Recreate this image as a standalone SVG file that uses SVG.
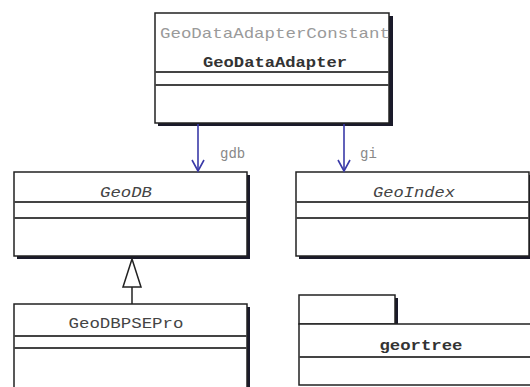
<svg xmlns="http://www.w3.org/2000/svg" width="530" height="387" viewBox="0 0 530 387">
<defs>
<style>
.box{fill:#ffffff;stroke:#222;stroke-width:1.5}
.shadow{fill:#1a1a2a}
.div{stroke:#444;stroke-width:1.8}
.t{font-family:"Liberation Mono","DejaVu Sans Mono",monospace;font-size:15px;fill:#444;text-anchor:middle}
.st{fill:#9a9a9a;font-weight:normal}
.b{font-weight:bold;fill:#333}
.i{font-style:italic}
.lbl{font-family:"Liberation Mono","DejaVu Sans Mono",monospace;font-size:14px;fill:#888}
.assoc{stroke:#3a3aa8;stroke-width:1.6;fill:none}
.gen{stroke:#222;stroke-width:1.5;fill:none}
</style>
<marker id="open" viewBox="0 0 14 14" refX="12" refY="7" markerWidth="14" markerHeight="14" markerUnits="userSpaceOnUse" orient="auto">
<path d="M1,1 L12,7 L1,13" fill="none" stroke="#3a3aa8" stroke-width="1.6"/>
</marker>
</defs>
<rect width="530" height="387" fill="#ffffff"/>

<g id="GeoDataAdapter">
<rect class="shadow" x="158" y="16" width="235" height="110"/>
<rect class="box" x="155" y="13" width="234" height="110"/>
<line class="div" x1="155" y1="72" x2="389" y2="72"/>
<line class="div" x1="155" y1="85" x2="389" y2="85"/>
<text class="t st" x="275" y="38" textLength="230" lengthAdjust="spacingAndGlyphs">GeoDataAdapterConstant</text>
<text class="t b" x="275" y="67" textLength="144" lengthAdjust="spacingAndGlyphs">GeoDataAdapter</text>
</g>

<g id="GeoDB">
<rect class="shadow" x="17" y="175" width="233" height="84"/>
<rect class="box" x="14" y="172" width="233" height="84"/>
<line class="div" x1="14" y1="202" x2="247" y2="202"/>
<line class="div" x1="14" y1="218" x2="247" y2="218"/>
<text class="t i" x="126" y="197" textLength="52" lengthAdjust="spacingAndGlyphs">GeoDB</text>
</g>

<g id="GeoIndex">
<rect class="shadow" x="299" y="175" width="233" height="84"/>
<rect class="box" x="296" y="172" width="233" height="84"/>
<line class="div" x1="296" y1="202" x2="529" y2="202"/>
<line class="div" x1="296" y1="218" x2="529" y2="218"/>
<text class="t i" x="414" y="197" textLength="82" lengthAdjust="spacingAndGlyphs">GeoIndex</text>
</g>

<g id="GeoDBPSEPro">
<rect class="shadow" x="17" y="307" width="233" height="90"/>
<rect class="box" x="14" y="304" width="233" height="90"/>
<line class="div" x1="14" y1="336" x2="247" y2="336"/>
<line class="div" x1="14" y1="348" x2="247" y2="348"/>
<text class="t" x="126" y="328" textLength="115" lengthAdjust="spacingAndGlyphs">GeoDBPSEPro</text>
</g>

<g id="geortree">
<rect class="shadow" x="302" y="298" width="96" height="29"/>
<rect class="box" x="299" y="295" width="96" height="29"/>
<rect class="box" x="299" y="324" width="232" height="61"/>
<line class="div" x1="299" y1="357" x2="531" y2="357"/>
<text class="t b" x="421" y="350" textLength="83" lengthAdjust="spacingAndGlyphs">geortree</text>
</g>

<g id="connectors">
<line class="assoc" x1="198" y1="124" x2="198" y2="171" marker-end="url(#open)"/>
<text class="lbl" x="220" y="158">gdb</text>
<line class="assoc" x1="344" y1="124" x2="344" y2="171" marker-end="url(#open)"/>
<text class="lbl" x="360" y="158">gi</text>
<line class="gen" x1="132" y1="304" x2="132" y2="287"/>
<polygon class="gen" points="132,259 123,287 141,287" fill="#ffffff"/>
</g>
</svg>
